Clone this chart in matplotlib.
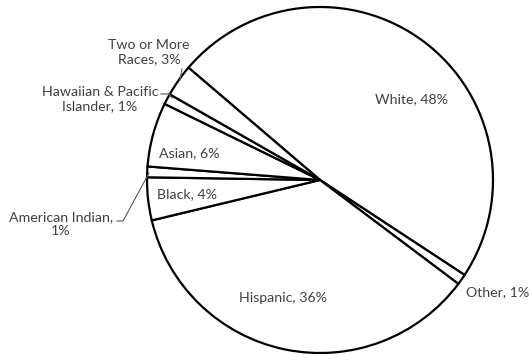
import matplotlib.pyplot as plt

# ============================================================
# Data
# ============================================================
groups = ["White", "Other", "Hispanic", "Black", "American Indian",
          "Asian", "Hawaiian & Pacific Islander", "Two or More Races"]
shares = [48, 1, 36, 4, 1, 6, 1, 3]

label_texts = ["White, 48%", "Other, 1%", "Hispanic, 36%", "Black, 4%",
               "American Indian,\n1%", "Asian, 6%",
               "Hawaiian & Pacific\nIslander, 1%", "Two or More\nRaces, 3%"]

# --- Layout (pixels of the 531x354 canvas) ---
W, H = 531, 354
CX, CY, R = 320, 180, 173
TEXT_COLOR = "#404040"


def to_data(px, py):
    return (px - CX) / R, (CY - py) / R


label_pos = [(412, 99, "center"), (466, 292, "left"), (283, 298, "center"),
             (187, 194, "center"), (61, 224, "center"), (189, 153, "center"),
             (100, 99, "center"), (149, 52, "center")]

leaders = [
    [(117, 221), (123, 221), (149, 173)],   # American Indian
    [(161, 94), (169, 94), (172, 98)],      # Hawaiian & Pacific Islander
    [(180, 80), (182, 69)],                 # Two or More Races
]

plt.rcParams['font.family'] = ['Lato', 'DejaVu Sans']

fig = plt.figure(figsize=(W / 100, H / 100), dpi=100)
ax = fig.add_axes([(CX - R) / W, (H - CY - R) / H, 2 * R / W, 2 * R / H])

ax.pie(shares, startangle=139.5, counterclock=False, radius=1,
       colors=["white"] * len(shares),
       wedgeprops=dict(edgecolor="black", linewidth=1.6))

for text, (px, py, ha) in zip(label_texts, label_pos):
    x, y = to_data(px, py)
    ax.text(x, y, text, ha=ha, va="center", multialignment="center",
            fontsize=10.2, color=TEXT_COLOR, linespacing=1.25)

for pts in leaders:
    xs, ys = zip(*[to_data(px, py) for px, py in pts])
    ax.plot(xs, ys, color="#595959", linewidth=0.8, clip_on=False)

ax.set_xlim(-1, 1)
ax.set_ylim(-1, 1)
ax.set_aspect("equal")
ax.axis("off")

fig.savefig("out.png", dpi=100)
